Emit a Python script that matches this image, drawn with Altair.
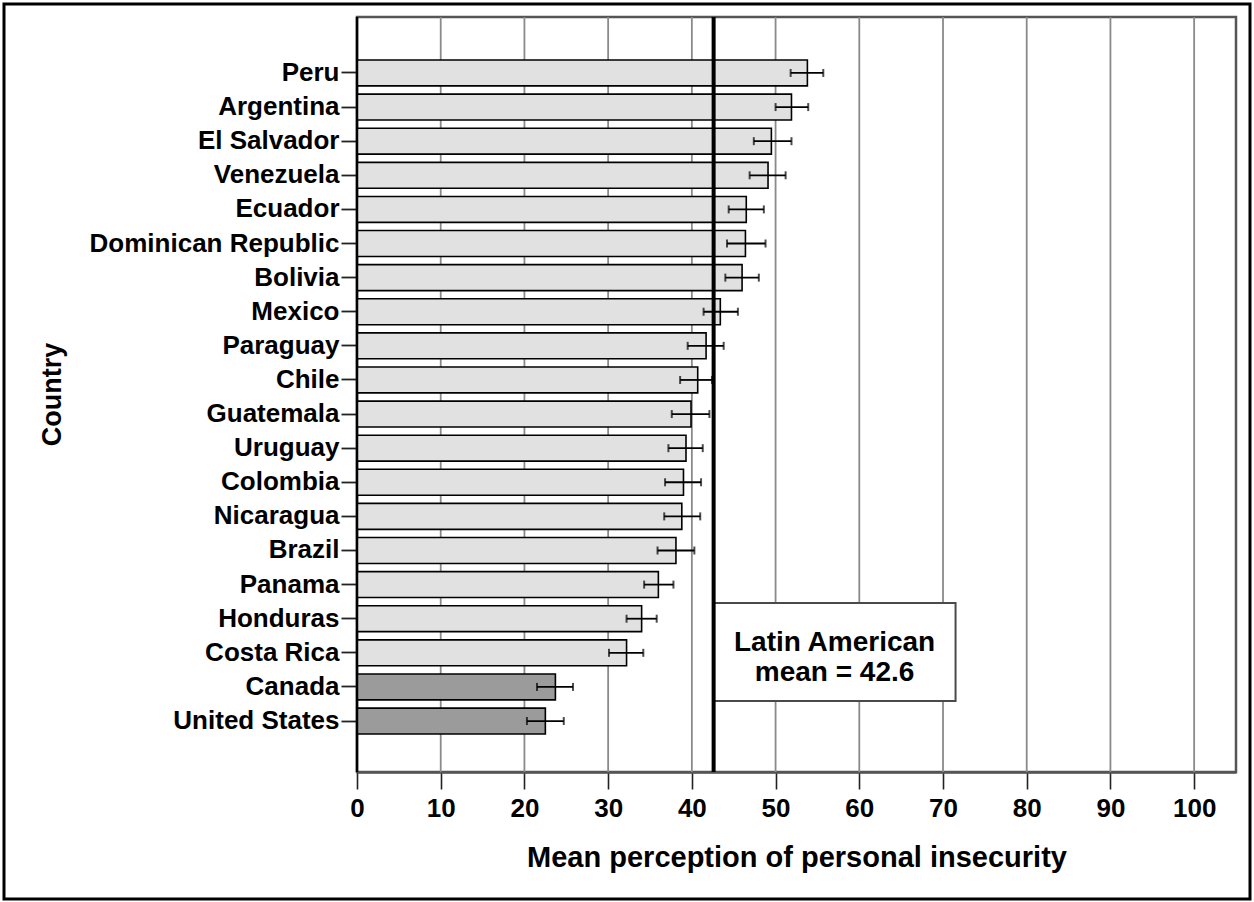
import altair as alt
import pandas as pd

# Mean perception of personal insecurity by country, with 95% confidence limits
countries = [
    "Peru", "Argentina", "El Salvador", "Venezuela", "Ecuador",
    "Dominican Republic", "Bolivia", "Mexico", "Paraguay", "Chile",
    "Guatemala", "Uruguay", "Colombia", "Nicaragua", "Brazil",
    "Panama", "Honduras", "Costa Rica", "Canada", "United States",
]
means = [53.8, 51.9, 49.5, 49.1, 46.5, 46.4, 46.0, 43.4, 41.7, 40.7,
         39.9, 39.3, 39.0, 38.8, 38.1, 36.0, 34.0, 32.2, 23.7, 22.5]
lower = [51.8, 50.0, 47.4, 46.9, 44.4, 44.2, 44.0, 41.4, 39.5, 38.6,
         37.6, 37.2, 36.8, 36.7, 35.9, 34.3, 32.2, 30.1, 21.5, 20.3]
upper = [55.7, 53.9, 51.9, 51.2, 48.6, 48.8, 48.0, 45.5, 43.8, 42.4,
         42.1, 41.3, 41.1, 41.0, 40.3, 37.8, 35.8, 34.2, 25.8, 24.7]
regions = ["Latin America"] * 18 + ["North America"] * 2
x_ticks = list(range(0, 101, 10))

latin_mean = 42.6
box_right = 71.5

df = pd.DataFrame({
    "country": countries,
    "mean": means,
    "lo": lower,
    "hi": upper,
    "region": regions,
})

BOLD = "Liberation Sans"
NARROW = "'Liberation Sans Narrow', 'Arial Narrow', 'Liberation Sans'"

W, H = 879, 755

x_scale = alt.Scale(domain=[0, 105], nice=False, zero=True)
# bands sit inside the plot with an empty margin above and below
y_scale = alt.Scale(range=[43, 717], paddingInner=0.24, paddingOuter=0)

x_enc = alt.X(
    "mean:Q", scale=x_scale,
    axis=alt.Axis(
        title="Mean perception of personal insecurity",
        values=x_ticks, format="d", grid=False,
        domainColor="#555555", domainWidth=2.5,
        tickColor="#222222", tickWidth=1.6, tickSize=17,
        labelFont=NARROW, labelFontSize=26, labelFontWeight="bold",
        labelColor="#000000", labelPadding=6, labelFlush=False,
        titleFont=BOLD, titleFontSize=29, titleFontWeight="bold",
        titleColor="#000000", titleY=85, titleBaseline="middle",
    ),
)
y_enc = alt.Y(
    "country:N", sort=countries, scale=y_scale,
    axis=alt.Axis(
        title="Country",
        domain=False,
        tickColor="#222222", tickWidth=1.8, tickSize=16,
        labelFont=BOLD, labelFontSize=26, labelFontWeight="bold",
        labelColor="#000000", labelPadding=2, labelLimit=400,
        titleFont=BOLD, titleFontSize=27, titleFontWeight="bold",
        titleColor="#000000", titleX=-305, titleY=377,
        titleBaseline="middle", titleAngle=-90,
    ),
)

# Vertical grid lines spanning the full plot height
grid = alt.Chart(pd.DataFrame({"t": x_ticks[1:]})).mark_rule(
    color="#8a8a8a", strokeWidth=1.8
).encode(
    x=alt.X("t:Q", scale=x_scale),
    y=alt.value(0),
    y2=alt.value(H),
)

base = alt.Chart(df)

bars = base.mark_bar(stroke="#000000", strokeWidth=1.6).encode(
    x=x_enc,
    y=y_enc,
    color=alt.Color(
        "region:N",
        scale=alt.Scale(domain=["Latin America", "North America"],
                        range=["#e1e1e1", "#9b9b9b"]),
        legend=None,
    ),
)

whiskers = base.mark_rule(color="#000000", strokeWidth=1.8).encode(
    x=alt.X("lo:Q", scale=x_scale),
    x2="hi:Q",
    y=alt.Y("country:N", sort=countries, scale=y_scale),
)

caps_lo = base.mark_tick(color="#000000", size=8, thickness=2).encode(
    x=alt.X("lo:Q", scale=x_scale),
    y=alt.Y("country:N", sort=countries, scale=y_scale),
)
caps_hi = base.mark_tick(color="#000000", size=8, thickness=2).encode(
    x=alt.X("hi:Q", scale=x_scale),
    y=alt.Y("country:N", sort=countries, scale=y_scale),
)

# Annotation box for the regional mean, anchored on the mean line
note = pd.DataFrame({"x0": [latin_mean], "x1": [box_right],
                     "xc": [(latin_mean + box_right) / 2]})
box = alt.Chart(note).mark_rect(
    fill="#ffffff", stroke="#4a4a4a", strokeWidth=2
).encode(
    x=alt.X("x0:Q", scale=x_scale),
    x2="x1:Q",
    y=alt.value(586),
    y2=alt.value(684),
)
label = alt.Chart(note).mark_text(
    text=["Latin American", f"mean = {latin_mean}"],
    font=BOLD, fontSize=28, fontWeight="bold", color="#000000",
    align="center", baseline="middle", lineHeight=30,
).encode(
    x=alt.X("xc:Q", scale=x_scale),
    y=alt.value(626),
)

mean_line = alt.Chart(note).mark_rule(color="#000000", strokeWidth=4).encode(
    x=alt.X("x0:Q", scale=x_scale),
)

# Left edge of the plot area
left_edge = alt.Chart(note).mark_rule(color="#000000", strokeWidth=2.5).encode(
    x=alt.value(0), y=alt.value(0), y2=alt.value(H),
)

# Outer frame around the whole figure
frame = alt.Chart(note).mark_rect(
    fill=None, stroke="#000000", strokeWidth=3
).encode(
    x=alt.value(-353), x2=alt.value(893),
    y=alt.value(-13), y2=alt.value(882),
)

chart = alt.layer(
    grid, bars, whiskers, caps_lo, caps_hi, box, label, mean_line,
    left_edge, frame
).properties(
    width=W,
    height=H,
    padding={"left": 357, "top": 17, "right": 18, "bottom": 130},
    autosize=alt.AutoSizeParams(type="none"),
    background="#ffffff",
).configure_view(
    stroke="#555555", strokeWidth=2.5,
)

chart.save("out.html", embed_options={"renderer": "svg", "actions": False})
